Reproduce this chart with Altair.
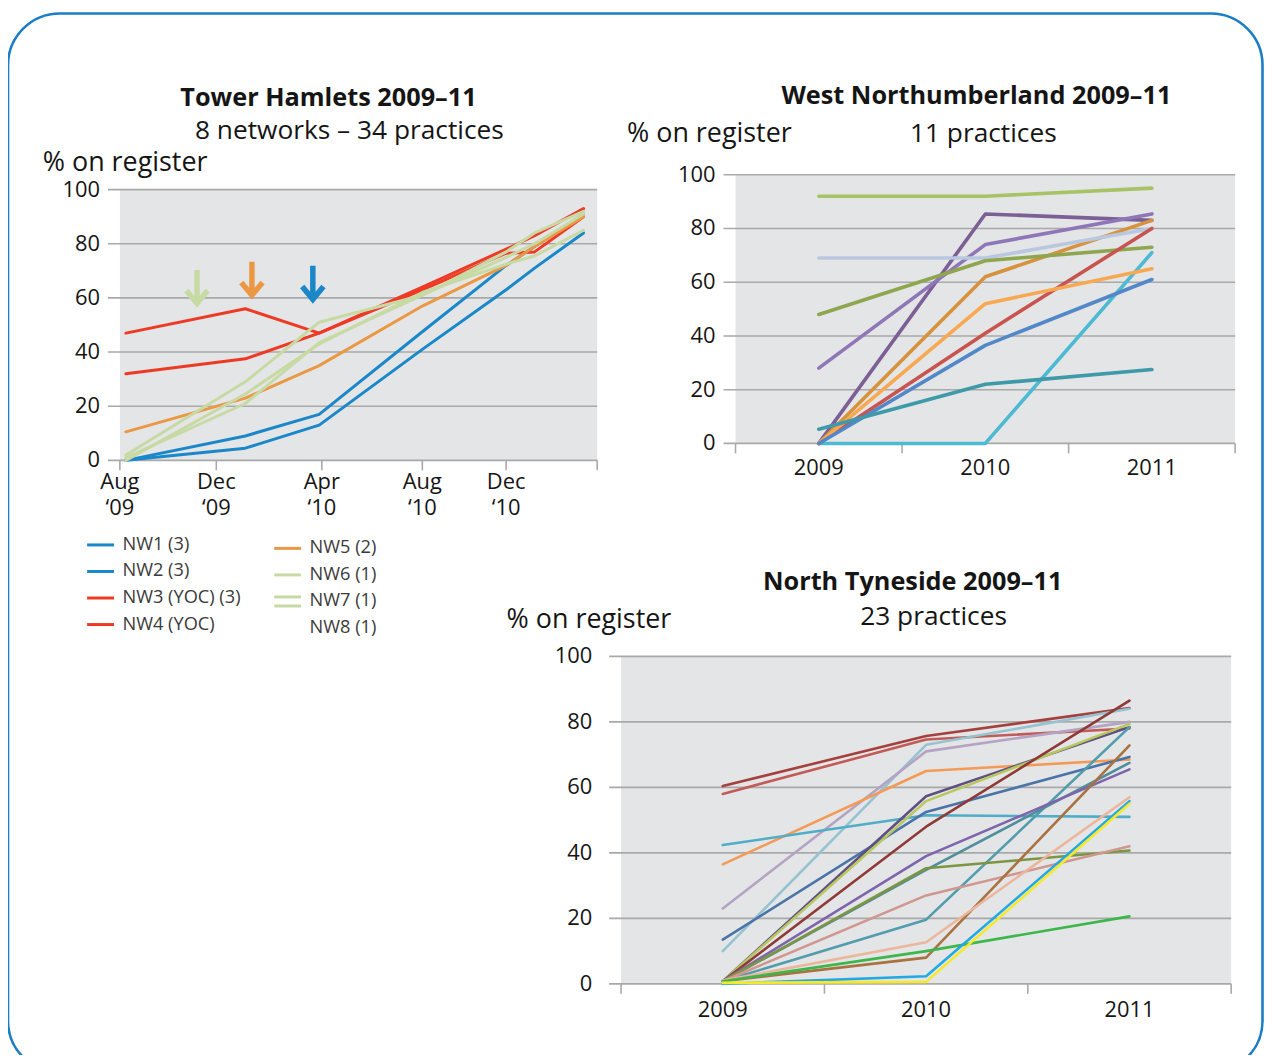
import altair as alt
import pandas as pd

FONT = "Open Sans"
TEXT = "#151515"
GRID = "#a9a9a9"
PLOT_BG = "#e4e5e7"
FRAME = "#1b7dc4"

# ---------------- Tower Hamlets (months after Aug 2009) ----------------
th_months = [0.25, 5.1, 7.9, 12, 16, 17.25, 19.4]
th_networks = ["NW1", "NW2", "NW3", "NW4", "NW5", "NW6", "NW7", "NW8"]
th_labels = ["NW1 (3)", "NW2 (3)", "NW3 (YOC) (3)", "NW4 (YOC)",
             "NW5 (2)", "NW6 (1)", "NW7 (1)", "NW8 (1)"]
th_nw1 = [0, 9, 17, 47.5, 72, 79, 91]
th_nw2 = [0, 4.5, 13, 41, 63, 71, 84]
th_nw3 = [47, 56, 47, 64, 78, 83, 93]
th_nw4 = [32, 37.5, 47, 63, 76.5, 77, 90]
th_nw5 = [10.5, 23, 35, 57, 72, 79, 90]
th_nw6 = [2, 29, 51, 61, 77, 84, 92]
th_nw7 = [0, 24.5, 43, 62, 72.5, 75.5, 85]
th_nw8 = [1, 21, 43.5, 61, 75, 80, 91]
th_series = [th_nw1, th_nw2, th_nw3, th_nw4, th_nw5, th_nw6, th_nw7, th_nw8]
th_colors = ["#1a87c9", "#1a87c9", "#ee3a24", "#ee3a24", "#eb9845",
             "#c8daa4", "#c8daa4", "#c8daa4"]
th_widths = [3, 3, 3.2, 3.2, 3, 4.5, 4.5, 4.5]
th_tick_months = [0, 4, 8, 12, 16, 20]
th_tick_months_lab = ["Aug", "Dec", "Apr", "Aug", "Dec"]
th_tick_years_lab = ["\u201809", "\u201809", "\u201810", "\u201810", "\u201810"]
th_arrow_months = [3.2, 5.35, 7.66]
th_arrow_values = [64, 67, 65.5]
th_arrow_networks = ["NW6", "NW5", "NW1"]

# ---------------- West Northumberland ----------------
wn_years = [2009, 2010, 2011]
wn_p01 = [92, 92, 95]
wn_p02 = [0, 85.4, 83]
wn_p03 = [28, 74, 85.4]
wn_p04 = [0, 62, 83]
wn_p05 = [69, 69, 80]
wn_p06 = [48, 68, 73]
wn_p07 = [0, 0, 71]
wn_p08 = [0, 41, 80]
wn_p09 = [0, 52, 65]
wn_p10 = [0, 36.5, 61]
wn_p11 = [5.3, 22, 27.5]
wn_series = [wn_p01, wn_p02, wn_p03, wn_p04, wn_p05, wn_p06,
             wn_p07, wn_p08, wn_p09, wn_p10, wn_p11]
wn_colors = ["#a6c465", "#7b5f95", "#8f76b7", "#d6923c", "#b9c7df", "#8ea64e",
             "#4cbad2", "#c8544f", "#f9a852", "#5287c8", "#3e99a9"]

# ---------------- North Tyneside ----------------
nt_years = [2009, 2010, 2011]
nt_p01 = [60.4, 75.7, 84.2]
nt_p02 = [58, 74.6, 78]
nt_p03 = [10, 73, 84]
nt_p04 = [23, 71, 80]
nt_p05 = [36.5, 65, 68.5]
nt_p06 = [42.4, 51.5, 51]
nt_p07 = [13.5, 52.5, 69.3]
nt_p08 = [0.8, 57.3, 78.4]
nt_p09 = [0.8, 55.8, 79.4]
nt_p10 = [0.8, 48, 86.5]
nt_p11 = [0.8, 19.6, 78.4]
nt_p12 = [0.8, 34.8, 67.5]
nt_p13 = [0.8, 39, 65.5]
nt_p14 = [0.8, 35.3, 40.7]
nt_p15 = [0.8, 27, 42]
nt_p16 = [0.8, 8, 72.8]
nt_p17 = [1, 12.7, 57]
nt_p18 = [0.8, 10, 20.6]
nt_p19 = [0, 2.3, 55.8]
nt_p20 = [0.3, 0.6, 55]
nt_series = [nt_p01, nt_p02, nt_p03, nt_p04, nt_p05, nt_p06, nt_p07, nt_p08, nt_p09, nt_p10,
             nt_p11, nt_p12, nt_p13, nt_p14, nt_p15, nt_p16, nt_p17, nt_p18, nt_p19, nt_p20]
nt_colors = ["#a4403d", "#c25a57", "#95c3d1", "#b4a3c3", "#f59a55", "#4fadc7", "#4a74a8",
             "#5e5082", "#b9c75f", "#8e3a37", "#519cad", "#4f8f9d", "#7e65ab", "#7c9542",
             "#cf978f", "#a97242", "#ebb69c", "#3db64b", "#22a9e1", "#f6e82a"]
nt_widths = [2.6] * 16 + [4.2, 2.8, 3, 3.2]

y_grid = [0, 20, 40, 60, 80, 100]
year_ticks = [2008.5, 2009.5, 2010.5, 2011.5]

# ---------------- layout (pixels inside the canvas) ----------------
W, H = 1262, 1047
TH_XR = [112.4, 209.3, 315.3, 416.3, 500.5, 592]
TH_YR = [452, 180]
WN_XR = [731, 1233]
WN_YR = [435, 165]
NT_XR = [616, 1229]
NT_YR = [978, 649]


def long_df(xs, names, series):
    rows = []
    for n, vals in zip(names, series):
        for x, v in zip(xs, vals):
            rows.append({"x": x, "v": v, "s": n})
    return pd.DataFrame(rows)


def base_layers(xsc, ysc, x_lo, x_hi, x_ticks, px_x, px_y, label_dx):
    ext = 12 / px_x
    tick_len = 10 / px_y
    bg = alt.Chart(pd.DataFrame({"a": [x_lo], "b": [x_hi], "c": [0], "d": [100]})).mark_rect(
        fill=PLOT_BG).encode(
        x=alt.X("a:Q", scale=xsc, axis=None), x2="b:Q",
        y=alt.Y("c:Q", scale=ysc, axis=None), y2="d:Q")
    grid = alt.Chart(pd.DataFrame({"g": y_grid, "a": x_lo - ext, "b": x_hi})).mark_rule(
        color=GRID, strokeWidth=1.6).encode(
        x=alt.X("a:Q", scale=xsc, axis=None), x2="b:Q",
        y=alt.Y("g:Q", scale=ysc, axis=None))
    ticks = alt.Chart(pd.DataFrame({"t": x_ticks, "c": 0, "d": -tick_len})).mark_rule(
        color=GRID, strokeWidth=1.6).encode(
        x=alt.X("t:Q", scale=xsc, axis=None),
        y=alt.Y("c:Q", scale=ysc, axis=None), y2="d:Q")
    ylab = alt.Chart(pd.DataFrame({"g": y_grid, "lab": [str(g) for g in y_grid], "a": x_lo})).mark_text(
        align="right", baseline="middle", dx=label_dx, font=FONT, fontSize=22, color=TEXT).encode(
        x=alt.X("a:Q", scale=xsc, axis=None),
        y=alt.Y("g:Q", scale=ysc, axis=None), text="lab:N")
    return [bg, grid, ticks, ylab]


def line_layer(df, xsc, ysc, names, colors, widths):
    return alt.Chart(df).mark_line(strokeJoin="round", strokeCap="round").encode(
        x=alt.X("x:Q", scale=xsc, axis=None),
        y=alt.Y("v:Q", scale=ysc, axis=None),
        color=alt.Color("s:N", scale=alt.Scale(domain=names, range=colors), legend=None),
        strokeWidth=alt.StrokeWidth("s:O", scale=alt.Scale(domain=names, range=widths), legend=None),
    )


def txt(s, x, y, size=24, weight="normal", align="center"):
    return alt.Chart(pd.DataFrame({"t": [s]})).mark_text(
        font=FONT, fontSize=size, fontWeight=weight, align=align,
        baseline="alphabetic", color=TEXT).encode(
        x=alt.value(x), y=alt.value(y), text="t:N")


# ---------------- Tower Hamlets panel ----------------
th_xsc = alt.Scale(domain=th_tick_months, range=TH_XR, nice=False, zero=False)
th_ysc = alt.Scale(domain=[0, 100], range=TH_YR, nice=False, zero=False)
th_px_x = (TH_XR[1] - TH_XR[0]) / 4
th_px_y = (TH_YR[0] - TH_YR[1]) / 100
th_color = alt.Scale(domain=th_networks, range=th_colors)

th_df = long_df(th_months, th_networks, th_series)
th_lab_df = pd.DataFrame({"t": th_tick_months[:5], "m": th_tick_months_lab,
                          "yr": th_tick_years_lab, "c": 0})
th_xlab_m = alt.Chart(th_lab_df).mark_text(
    align="center", baseline="middle", dy=22, font=FONT, fontSize=22, color=TEXT).encode(
    x=alt.X("t:Q", scale=th_xsc, axis=None), y=alt.Y("c:Q", scale=th_ysc, axis=None), text="m:N")
th_xlab_y = alt.Chart(th_lab_df).mark_text(
    align="center", baseline="middle", dy=48, font=FONT, fontSize=22, color=TEXT).encode(
    x=alt.X("t:Q", scale=th_xsc, axis=None), y=alt.Y("c:Q", scale=th_ysc, axis=None), text="yr:N")
ARROW = "M0,-1L0,0.8M-0.62,0.2L0,0.95L0.62,0.2"
th_arrows = alt.Chart(pd.DataFrame({"x": th_arrow_months, "v": th_arrow_values,
                                    "s": th_arrow_networks})).mark_point(
    shape=ARROW, size=1190, filled=False, strokeWidth=5.5, opacity=1, strokeJoin="miter").encode(
    x=alt.X("x:Q", scale=th_xsc, axis=None), y=alt.Y("v:Q", scale=th_ysc, axis=None),
    color=alt.Color("s:N", scale=th_color, legend=None))
th_panel = alt.layer(
    *base_layers(th_xsc, th_ysc, 0, 20, th_tick_months, th_px_x, th_px_y, -20),
    line_layer(th_df, th_xsc, th_ysc, th_networks, th_colors, th_widths),
    th_arrows, th_xlab_m, th_xlab_y)

# ---------------- legend for Tower Hamlets ----------------
leg_col = [0, 0, 0, 0, 1, 1, 1, 1]
leg_row = [0, 1, 2, 3, 0, 1, 2, 3]
swatch_row = [0, 1, 2, 3, 0, 1, 1.83, 2.17]
leg_df = pd.DataFrame({"s": th_networks, "lab": th_labels, "col": leg_col,
                       "row": [r + 0.13 * c for r, c in zip(leg_row, leg_col)],
                       "srow": [r + 0.13 * c for r, c in zip(swatch_row, leg_col)]})
leg_xsc = alt.Scale(domain=[0, 1], range=[93, 281], nice=False, zero=False)
leg_ysc = alt.Scale(domain=[0, 3], range=[537, 617], nice=False, zero=False)
leg_sw = alt.Chart(leg_df).mark_point(shape="M-1,0L1,0", size=729, filled=False,
                                      strokeWidth=3, opacity=1).encode(
    x=alt.X("col:Q", scale=leg_xsc, axis=None), y=alt.Y("srow:Q", scale=leg_ysc, axis=None),
    color=alt.Color("s:N", scale=th_color, legend=None))
leg_tx = alt.Chart(leg_df).mark_text(align="left", baseline="middle", dx=22, font=FONT,
                                     fontSize=18.3, color="#3a3a3a").encode(
    x=alt.X("col:Q", scale=leg_xsc, axis=None), y=alt.Y("row:Q", scale=leg_ysc, axis=None),
    text="lab:N")
legend_panel = alt.layer(leg_sw, leg_tx)

# ---------------- West Northumberland panel ----------------
wn_names = ["W%02d" % (i + 1) for i in range(len(wn_series))]
wn_xsc = alt.Scale(domain=[2008.5, 2011.5], range=WN_XR, nice=False, zero=False)
wn_ysc = alt.Scale(domain=[0, 100], range=WN_YR, nice=False, zero=False)
wn_px_x = (WN_XR[1] - WN_XR[0]) / 3
wn_px_y = (WN_YR[0] - WN_YR[1]) / 100
wn_df = long_df(wn_years, wn_names, wn_series)
wn_xlab = alt.Chart(pd.DataFrame({"t": wn_years, "lab": [str(y) for y in wn_years], "c": 0})).mark_text(
    align="center", baseline="middle", dy=25, font=FONT, fontSize=22, color=TEXT).encode(
    x=alt.X("t:Q", scale=wn_xsc, axis=None), y=alt.Y("c:Q", scale=wn_ysc, axis=None), text="lab:N")
wn_panel = alt.layer(
    *base_layers(wn_xsc, wn_ysc, 2008.5, 2011.5, year_ticks, wn_px_x, wn_px_y, -20),
    line_layer(wn_df, wn_xsc, wn_ysc, wn_names, wn_colors, [3.6] * len(wn_names)),
    wn_xlab)

# ---------------- North Tyneside panel ----------------
nt_names = ["N%02d" % (i + 1) for i in range(len(nt_series))]
nt_xsc = alt.Scale(domain=[2008.5, 2011.5], range=NT_XR, nice=False, zero=False)
nt_ysc = alt.Scale(domain=[0, 100], range=NT_YR, nice=False, zero=False)
nt_px_x = (NT_XR[1] - NT_XR[0]) / 3
nt_px_y = (NT_YR[0] - NT_YR[1]) / 100
nt_df = long_df(nt_years, nt_names, nt_series)
nt_xlab = alt.Chart(pd.DataFrame({"t": nt_years, "lab": [str(y) for y in nt_years], "c": 0})).mark_text(
    align="center", baseline="middle", dy=26, font=FONT, fontSize=22, color=TEXT).encode(
    x=alt.X("t:Q", scale=nt_xsc, axis=None), y=alt.Y("c:Q", scale=nt_ysc, axis=None), text="lab:N")
nt_panel = alt.layer(
    *base_layers(nt_xsc, nt_ysc, 2008.5, 2011.5, year_ticks, nt_px_x, nt_px_y, -29),
    line_layer(nt_df, nt_xsc, nt_ysc, nt_names, nt_colors, nt_widths),
    nt_xlab)

# ---------------- frame and titles ----------------
frame = alt.Chart(pd.DataFrame({"a": [0]})).mark_rect(
    fill="white", fillOpacity=0, stroke=FRAME, strokeWidth=2.6, cornerRadius=52).encode(
    x=alt.value(0), x2=alt.value(W - 1.5), y=alt.value(3), y2=alt.value(H + 20))

TITLE = 25.4
SUB = 26.4
REG = 27
titles = [
    txt("Tower Hamlets 2009\u201311", 322, 95.5, size=TITLE, weight="bold"),
    txt("8 networks \u2013 34 practices", 343, 129.5, size=SUB),
    txt("% on register", 35, 161.5, size=REG, align="left"),
    txt("West Northumberland 2009\u201311", 973, 93.5, size=TITLE, weight="bold"),
    txt("% on register", 622, 132.5, size=REG, align="left"),
    txt("11 practices", 980, 132.5, size=SUB),
    txt("North Tyneside 2009\u201311", 909, 582.5, size=TITLE, weight="bold"),
    txt("23 practices", 930, 617.5, size=SUB),
    txt("% on register", 501, 620.5, size=REG, align="left"),
]

chart = alt.layer(frame, th_panel, legend_panel, wn_panel, nt_panel, *titles).resolve_scale(
    x="independent", y="independent", color="independent", strokeWidth="independent"
).properties(
    width=W, height=H, autosize=alt.AutoSizeParams(type="none"), padding=0, background="white"
).configure_view(strokeWidth=0)

chart.save("out.html", embed_options={"renderer": "svg", "actions": False})
